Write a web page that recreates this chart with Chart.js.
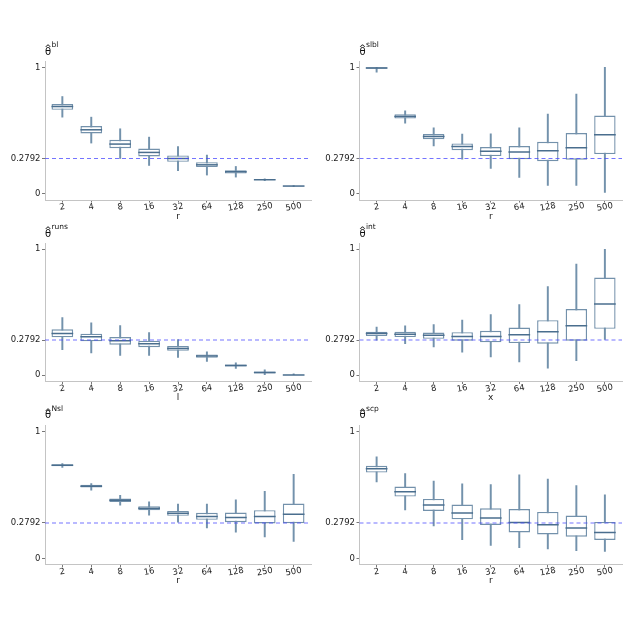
<!DOCTYPE html>
<html><head><meta charset="utf-8">
<script src="https://cdn.jsdelivr.net/npm/chart.js@4/dist/chart.umd.min.js"></script>
<style>
html,body{margin:0;padding:0;background:#fff;}
body{width:627px;height:627px;position:relative;overflow:hidden;font-family:"DejaVu Sans",sans-serif;}
canvas.cv{position:absolute;}
.th,.sup,.hat{position:absolute;color:#111;line-height:1;white-space:nowrap;}
.th{font-size:10px;}
.sup{font-size:7.5px;}
.hat{font-size:9px;}
</style>
</head><body>
<script>
const cats = ['2','4','8','16','32','64','128','250','500'];
const yTicks = [0, 0.2792, 1];
const refValue = 0.2792;

const blLo  = [0.606,0.401,0.279,0.224,0.182,0.148,0.132,0.104,0.057];
const blQ1  = [0.664,0.477,0.361,0.295,0.253,0.211,0.160,0.108,0.059];
const blMed = [0.690,0.506,0.393,0.327,0.279,0.229,0.174,0.111,0.061];
const blQ3  = [0.709,0.535,0.427,0.358,0.303,0.250,0.187,0.114,0.063];
const blHi  = [0.769,0.606,0.514,0.448,0.374,0.306,0.216,0.118,0.065];

const slblLo  = [0.962,0.559,0.379,0.274,0.200,0.129,0.066,0.066,0.010];
const slblQ1  = [0.988,0.595,0.432,0.345,0.298,0.274,0.258,0.269,0.314];
const slblMed = [0.994,0.612,0.453,0.374,0.337,0.330,0.340,0.364,0.466];
const slblQ3  = [1.000,0.628,0.472,0.398,0.369,0.377,0.411,0.480,0.619];
const slblHi  = [1.000,0.656,0.522,0.472,0.474,0.522,0.630,0.788,1.000];

const runsLo  = [0.202,0.176,0.157,0.157,0.141,0.109,0.053,0.000,0.000];
const runsQ1  = [0.301,0.269,0.242,0.223,0.194,0.138,0.069,0.013,0.000];
const runsMed = [0.332,0.306,0.274,0.250,0.213,0.152,0.077,0.021,0.002];
const runsQ3  = [0.364,0.330,0.303,0.274,0.231,0.165,0.085,0.029,0.006];
const runsHi  = [0.457,0.415,0.394,0.338,0.282,0.186,0.098,0.043,0.011];

const intLo  = [0.279,0.250,0.224,0.182,0.145,0.105,0.055,0.116,0.284];
const intQ1  = [0.311,0.303,0.289,0.274,0.261,0.255,0.250,0.274,0.368];
const intMed = [0.332,0.326,0.318,0.308,0.308,0.321,0.345,0.392,0.566];
const intQ3  = [0.345,0.345,0.339,0.342,0.353,0.379,0.437,0.526,0.776];
const intHi  = [0.382,0.392,0.403,0.437,0.482,0.561,0.703,0.882,1.000];

const nslLo  = [0.717,0.537,0.419,0.340,0.285,0.241,0.207,0.170,0.134];
const nslQ1  = [0.725,0.558,0.445,0.380,0.335,0.304,0.285,0.275,0.277];
const nslMed = [0.733,0.568,0.458,0.395,0.356,0.330,0.322,0.330,0.348];
const nslQ3  = [0.741,0.579,0.471,0.411,0.374,0.359,0.361,0.380,0.432];
const nslHi  = [0.746,0.589,0.497,0.445,0.427,0.427,0.461,0.529,0.662];

const scpLo  = [0.603,0.382,0.255,0.147,0.103,0.084,0.074,0.061,0.055];
const scpQ1  = [0.676,0.487,0.374,0.308,0.263,0.205,0.189,0.171,0.145];
const scpMed = [0.705,0.524,0.421,0.358,0.318,0.282,0.266,0.239,0.205];
const scpQ3  = [0.729,0.566,0.468,0.424,0.395,0.389,0.366,0.337,0.287];
const scpHi  = [0.800,0.668,0.608,0.587,0.582,0.658,0.624,0.574,0.500];

const panels = [
  {sup:'bl',   xt:'r', lo:blLo,   q1:blQ1,   med:blMed,   q3:blQ3,   hi:blHi,   col:0, row:0},
  {sup:'slbl', xt:'r', lo:slblLo, q1:slblQ1, med:slblMed, q3:slblQ3, hi:slblHi, col:1, row:0},
  {sup:'runs', xt:'l', lo:runsLo, q1:runsQ1, med:runsMed, q3:runsQ3, hi:runsHi, col:0, row:1},
  {sup:'int',  xt:'x', lo:intLo,  q1:intQ1,  med:intMed,  q3:intQ3,  hi:intHi,  col:1, row:1},
  {sup:'Nsl',  xt:'r', lo:nslLo,  q1:nslQ1,  med:nslMed,  q3:nslQ3,  hi:nslHi,  col:0, row:2},
  {sup:'scp',  xt:'r', lo:scpLo,  q1:scpQ1,  med:scpMed,  q3:scpQ3,  hi:scpHi,  col:1, row:2}
];

// layout (pixels)
const colL = [45, 359.5], colR = [311, 622], colCx = [0, 313], colW = [313, 314];
const rowT = [61.2, 243, 424.6], rowB = [200.3, 381.5, 564.4];
const padTop = 6, xAxisH = 21.5;

const FONT = 'DejaVu Sans';
Chart.defaults.font.family = FONT;

const refLinePlugin = {
  id: 'refLine',
  afterDatasetsDraw(chart) {
    const {ctx, chartArea: a} = chart;
    const py = chart.scales.y.getPixelForValue(refValue);
    ctx.save();
    ctx.strokeStyle = 'rgba(70,70,255,0.75)';
    ctx.lineWidth = 1.1;
    ctx.setLineDash([4, 3]);
    ctx.beginPath();
    ctx.moveTo(a.left, py);
    ctx.lineTo(a.right, py);
    ctx.stroke();
    ctx.restore();
  }
};

function noPad(s) { s.paddingTop = 0; s.paddingBottom = 0; s.paddingLeft = 0; s.paddingRight = 0; }

function addSpan(cls, text, left, top) {
  const el = document.createElement('span');
  el.className = cls;
  el.style.left = left + 'px';
  el.style.top = top + 'px';
  el.textContent = text;
  document.body.appendChild(el);
}

panels.forEach(p => {
  const L = colL[p.col], R = colR[p.col], cx = colCx[p.col], W = colW[p.col];
  const T = rowT[p.row], B = rowB[p.row];
  const cy = T - padTop;
  const H = Math.round(B - cy + xAxisH);
  const cv = document.createElement('canvas');
  cv.className = 'cv';
  cv.style.left = cx + 'px';
  cv.style.top = cy + 'px';
  cv.style.width = W + 'px';
  cv.style.height = H + 'px';
  cv.width = W; cv.height = H;
  document.body.appendChild(cv);
  const axisH = H - (B - cy);

  addSpan('th', '\u03B8', L, T - 14.4);
  addSpan('hat', '^', L - 0.75, T - 17.1);
  addSpan('sup', p.sup, L + 6.5, T - 19.8);

  const whisk = cats.map((c, i) => ({x: i, y: [p.lo[i], p.hi[i]]}));
  const box = cats.map((c, i) => ({x: i, y: [p.q1[i], p.q3[i]]}));
  const med = cats.map((c, i) => ({x: i, y: p.med[i]}));

  new Chart(cv, {
    type: 'bar',
    data: {
      datasets: [
        {type: 'bar', data: whisk, backgroundColor: '#7392ac', borderWidth: 0, barThickness: 1.3, grouped: false, order: 3},
        {type: 'bar', data: box, backgroundColor: '#ffffff', borderColor: '#7391ab', borderWidth: 1.4, borderSkipped: false, grouped: false, barPercentage: 0.75, categoryPercentage: 1, order: 2},
        {type: 'scatter', data: med, pointStyle: 'line', pointRadius: 10.85, pointHoverRadius: 10.85, pointBorderWidth: 1.5, pointBorderColor: '#4a6e8e', pointBackgroundColor: '#4a6e8e', order: 1}
      ]
    },
    options: {
      responsive: false,
      animation: false,
      events: [],
      layout: {autoPadding: false, padding: {left: 0, top: padTop, right: cx + W - R, bottom: 0}},
      plugins: {legend: {display: false}, tooltip: {enabled: false}, title: {display: false}},
      scales: {
        x: {
          type: 'linear', min: -0.6, max: 8.6, offset: false,
          afterBuildTicks: s => { s.ticks = cats.map((c, i) => ({value: i})); },
          afterSetDimensions: s => { s._getXAxisLabelAlignment = () => 'center'; },
          afterFit: s => { s.height = axisH; noPad(s); },
          ticks: {autoSkip: false, minRotation: 10, maxRotation: 10, padding: -0.5, color: '#222', font: {size: 8.5}, callback: v => cats[v]},
          grid: {display: true, drawOnChartArea: false, drawTicks: true, tickLength: 2.5, tickColor: '#555', tickWidth: 0.8, offset: false},
          border: {display: true, color: '#c4c4c4', width: 1},
          title: {display: true, text: p.xt, color: '#222', font: {size: 9}, padding: 0}
        },
        y: {
          type: 'linear', min: -0.05, max: 1.05,
          afterBuildTicks: s => { s.ticks = yTicks.map(v => ({value: v})); },
          afterFit: s => { s.width = L - cx; noPad(s); },
          ticks: {padding: 1.5, color: '#222', font: {size: 8.5}, callback: v => String(v)},
          grid: {display: true, drawOnChartArea: false, drawTicks: true, tickLength: 3, tickColor: '#555', tickWidth: 0.8},
          border: {display: true, color: '#c4c4c4', width: 1}
        }
      }
    },
    plugins: [refLinePlugin]
  });
});
</script>
</body></html>
